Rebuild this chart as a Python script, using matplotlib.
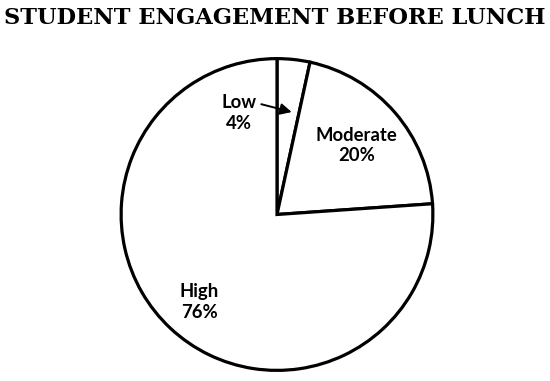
import matplotlib
matplotlib.use("Agg")
import matplotlib.pyplot as plt

categories = ["Low", "Moderate", "High"]
# wedge sizes as drawn
values = [3.4, 20.5, 76.1]
# percentages as printed on the chart
pct_labels = ["4%", "20%", "76%"]

W, H = 550, 381
fig = plt.figure(figsize=(W / 100, H / 100), dpi=100)

cx, cy, r = 277, 214.5, 159
ax = fig.add_axes([(cx - r) / W, (H - cy - r) / H, 2 * r / W, 2 * r / H])
ax.pie(values, startangle=90, counterclock=False, radius=1,
       colors=["white"] * 3,
       wedgeprops=dict(edgecolor="black", linewidth=2.3))
ax.set_xlim(-1.02, 1.02)
ax.set_ylim(-1.02, 1.02)
ax.set_aspect("equal")
ax.axis("off")

def d(px, py):
    return ((px - cx) / r * 1.0, (cy - py) / r * 1.0)

lab_font = dict(family="Lato", fontweight="bold", fontsize=13.3,
                ha="center", va="center", linespacing=1.25)
pos = {"Low": (238, 111), "Moderate": (358, 144), "High": (198, 304)}
for c, p in zip(categories, pct_labels):
    x, y = d(*pos[c])
    ax.text(x, y, f"{c}\n{p}", **lab_font)

ax.annotate("", xy=d(292, 110), xytext=d(261, 102),
            arrowprops=dict(arrowstyle="-|>", color="black", lw=1.4,
                            mutation_scale=17, shrinkA=0, shrinkB=0))

fig.text(0.5, 1 - 18 / H, "STUDENT ENGAGEMENT BEFORE LUNCH",
         ha="center", va="center", family="DejaVu Serif",
         fontweight="bold", fontsize=16.2)

fig.savefig("out.png", dpi=100, facecolor="white")
